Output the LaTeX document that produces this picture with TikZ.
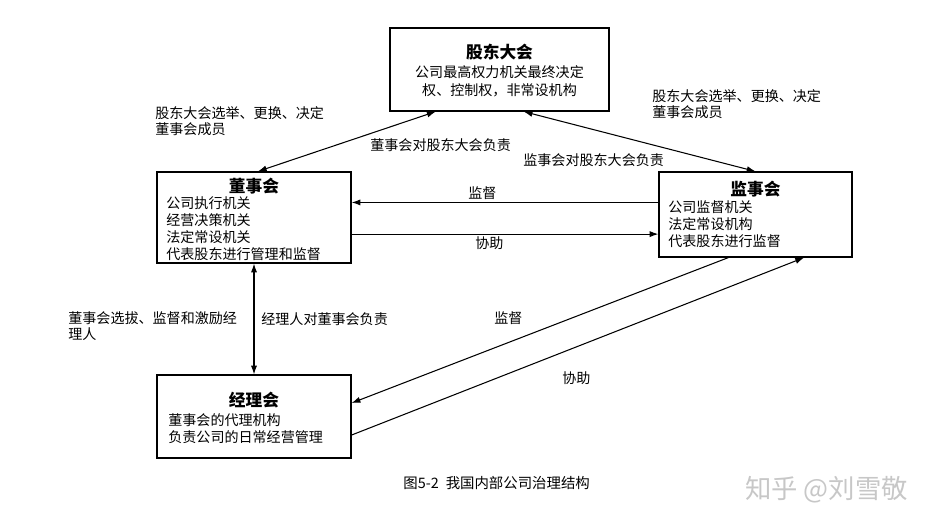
\documentclass[tikz,border=0pt]{standalone}
\usepackage{fontspec}
\setmainfont{Noto Sans CJK SC}
\usetikzlibrary{calc,arrows.meta}

\tikzset{
	box/.style = {draw, line width=0.7pt, inner sep=0pt},
	title/.style = {font=\fontsize{9.5}{11}\selectfont\bfseries, inner sep=0pt},
	body/.style = {font=\fontsize{8}{9.8}\selectfont, align=left, inner sep=0pt, anchor=north west},
	lbl/.style = {font=\fontsize{8}{9.4}\selectfont, align=left, inner sep=0pt, anchor=north west},
	tag/.style = {font=\fontsize{8}{9.4}\selectfont, inner sep=0pt, anchor=west},
	link/.style = {line width=0.6pt, -{Latex[length=5pt,width=3.5pt]}},
	both/.style = {line width=0.6pt, {Latex[length=5pt,width=3.5pt]}-{Latex[length=5pt,width=3.5pt]}}
}

\begin{document}
\begin{tikzpicture}[x=0.02cm, y=-0.02cm]
		\useasboundingbox (0,0) rectangle (945,528);
		
		% shareholders meeting
		\node[box, minimum width=4.38cm, minimum height=1.66cm] (gd) at (499.5,69.5) {};
		\node[title] (gdt) at (499.5,52) {股东大会};
		\node[font=\fontsize{8}{10.2}\selectfont, align=center, inner sep=0pt] (gdb) at (499.5,81) {公司最高权力机关最终决定\\权、控制权，非常设机构};
		
		% board of directors
		\node[box, minimum width=3.88cm, minimum height=1.82cm] (ds) at (254,217.5) {};
		\node[title] (dst) at (254,186) {董事会};
		\node[body] (dsb) at (166,196) {公司执行机关\\经营决策机关\\法定常设机关\\代表股东进行管理和监督};
		
		% supervisory board
		\node[box, minimum width=3.86cm, minimum height=1.70cm] (js) at (755.5,214.5) {};
		\node[title] (jst) at (755.5,189) {监事会};
		\node[body] (jsb) at (668,200) {公司监督机关\\法定常设机构\\代表股东进行监督};
		
		% managers
		\node[box, minimum width=3.88cm, minimum height=1.66cm] (jl) at (254,416.5) {};
		\node[title] (jlt) at (254,400) {经理会};
		\node[body] (jlb) at (168,413) {董事会的代理机构\\负责公司的日常经营管理};
		
		% arrows
		\draw[both] ($(gd.south west)!0.21!(gd.south east)$) -- ($(ds.north west)!0.52!(ds.north east)$);
		\draw[both] ($(gd.south west)!0.61!(gd.south east)$) -- (js.north);
		\coordinate (s1) at ($(js.north west)!0.36!(js.south west)$);
		\draw[link] (s1) -- (s1 -| ds.east);
		\coordinate (s2) at ($(ds.north east)!0.68!(ds.south east)$);
		\draw[link] (s2) -- (s2 -| js.west);
		\draw[both] (ds.south) -- (jl.north);
		\draw[link] ($(js.south west)!0.36!(js.south east)$) -- ($(jl.north east)!0.34!(jl.south east)$);
		\draw[link] ($(jl.north east)!0.72!(jl.south east)$) -- ($(js.south west)!0.75!(js.south east)$);
		
		% labels
		\node[lbl] (l1) at (155,106) {股东大会选举、更换、决定\\董事会成员};
		\node[tag] (l2) at (370,145) {董事会对股东大会负责};
		\node[lbl] (l3) at (652,89) {股东大会选举、更换、决定\\董事会成员};
		\node[tag] (l4) at (523,160) {监事会对股东大会负责};
		\node[tag] (l5) at (468,193) {监督};
		\node[tag] (l6) at (475,243) {协助};
		\node[lbl] (l7) at (68,311) {董事会选拔、监督和激励经\\理人};
		\node[tag] (l8) at (261,319) {经理人对董事会负责};
		\node[tag] (l9) at (494,318) {监督};
		\node[tag] (l10) at (562,378) {协助};
		
		% caption and mark
		\node[tag, font=\fontsize{8.2}{9.4}\selectfont] (cap) at (403,483) {图5-2\hspace{4pt}我国内部公司治理结构};
		\node[tag, font=\fontsize{15}{17}\selectfont, text=black!22] (wm) at (745,490) {知乎 @刘雪敬};
		
	\end{tikzpicture}
\end{document}
